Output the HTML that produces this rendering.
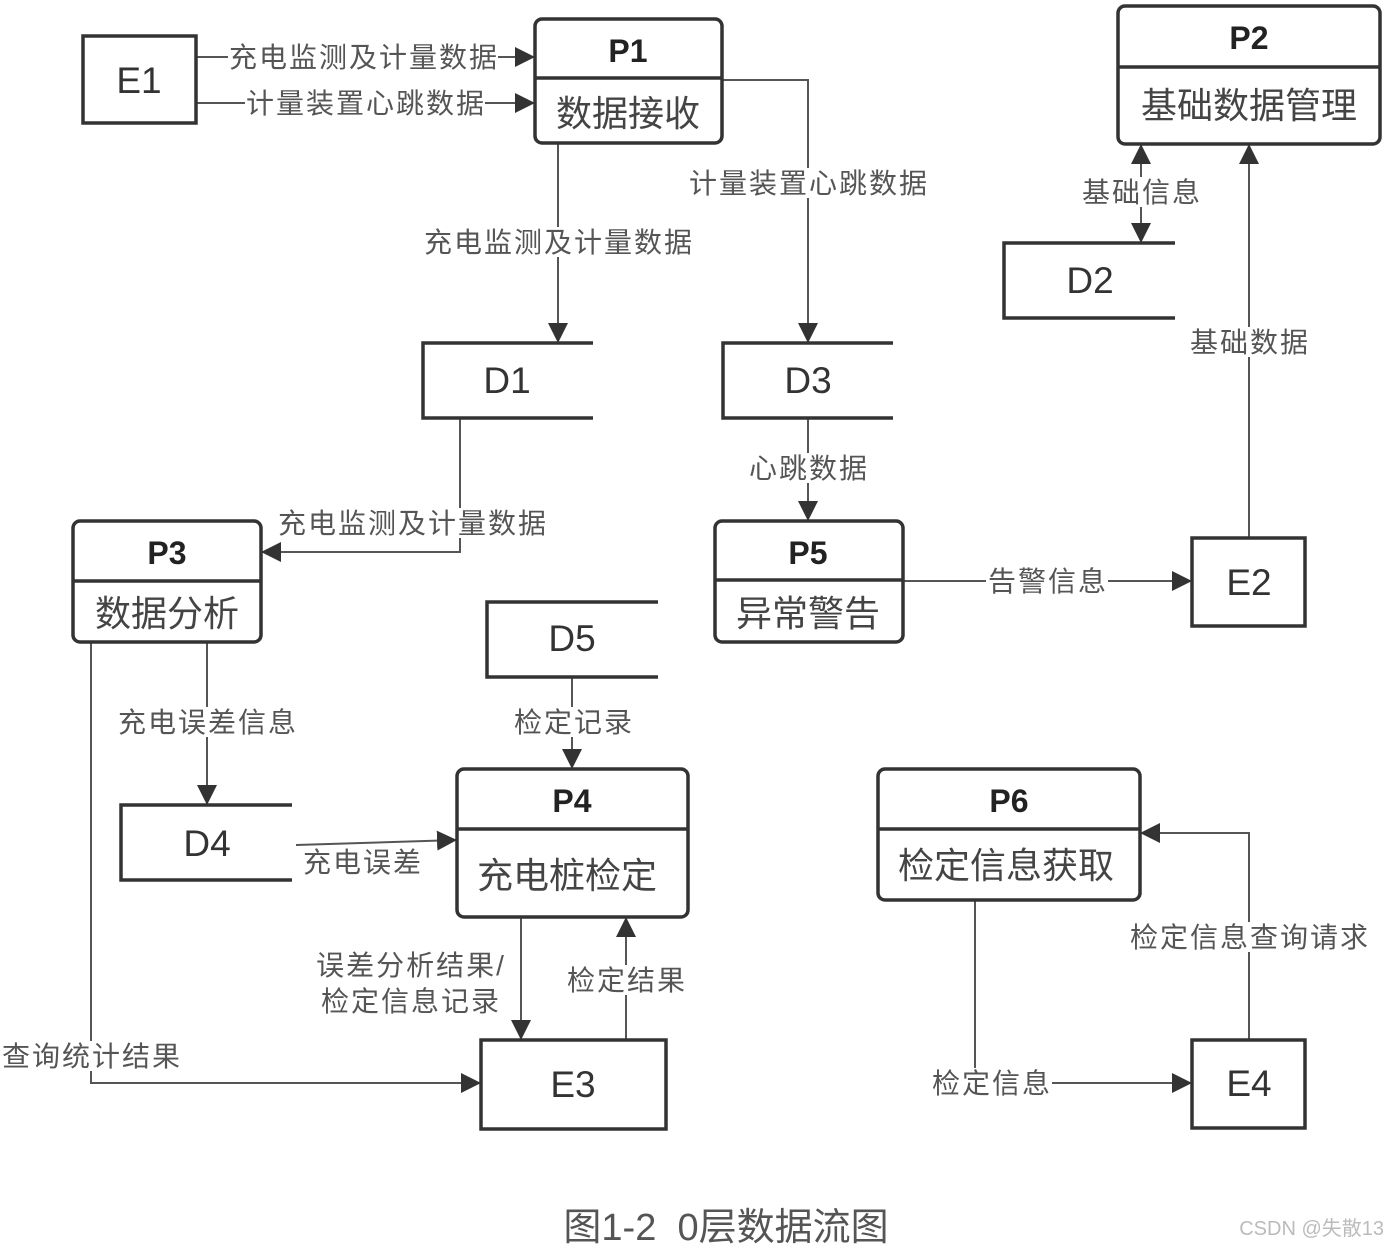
<!DOCTYPE html>
<html><head><meta charset="utf-8"><style>
html,body{margin:0;padding:0;background:#fff;}
svg text{font-family:"Liberation Sans","Noto Sans CJK SC",sans-serif;}
</style></head><body>
<svg width="1389" height="1251" viewBox="0 0 1389 1251" xmlns="http://www.w3.org/2000/svg">
<defs>
<marker id="b" viewBox="0 0 10 10" refX="10" refY="5" markerWidth="20" markerHeight="20" markerUnits="userSpaceOnUse" orient="auto">
<path d="M0,0 L10,5 L0,10 z" fill="#333"/></marker>
</defs>
<g fill="none" stroke="#555" stroke-width="2" marker-end="url(#b)">
<path d="M196,57 H535"/>
<path d="M196,103 H535"/>
<path d="M558,143 V343"/>
<path d="M722,80 H808 V343"/>
<path d="M1141,170 V243"/>
<path d="M1141,170 V144"/>
<path d="M1249,538 V144"/>
<path d="M808,418 V521"/>
<path d="M903,581 H1192"/>
<path d="M460,418 V552 H261"/>
<path d="M207,642 V805"/>
<path d="M296,845 L457,840"/>
<path d="M572,677 V769"/>
<path d="M521,917 V1040"/>
<path d="M626,1040 V917"/>
<path d="M91,642 V1083 H481"/>
<path d="M975,900 V1083 H1192"/>
<path d="M1249,1040 V833 H1140"/>
</g>
<g fill="#fff" stroke="#333" stroke-width="3.5">
<rect x="83" y="36" width="113" height="87"/>
<rect x="1192" y="538" width="113" height="88"/>
<rect x="481" y="1040" width="185" height="89"/>
<rect x="1192" y="1040" width="113" height="88"/>
<rect x="535" y="19" width="187" height="124" rx="7"/>
<rect x="1118" y="6" width="262" height="138" rx="7"/>
<rect x="715" y="521" width="188" height="121" rx="7"/>
<rect x="73" y="521" width="188" height="121" rx="7"/>
<rect x="457" y="769" width="231" height="148" rx="7"/>
<rect x="878" y="769" width="262" height="131" rx="7"/>
</g>
<g fill="none" stroke="#333" stroke-width="3.5">
<path d="M535,78 H722 M1118,67 H1380 M715,580 H903 M73,581 H261 M457,829 H688 M878,829 H1140"/>
<path d="M1175,243 H1004 V318 H1175"/>
<path d="M593,343 H423 V418 H593"/>
<path d="M893,343 H723 V418 H893"/>
<path d="M292,805 H121 V880 H292"/>
<path d="M658,602 H487 V677 H658"/>
</g>
<g fill="#333" font-size="37" text-anchor="middle">
<text x="139" y="93">E1</text>
<text x="1249" y="595">E2</text>
<text x="573" y="1097">E3</text>
<text x="1249" y="1096">E4</text>
<text x="1090" y="293">D2</text>
<text x="507" y="393">D1</text>
<text x="808" y="393">D3</text>
<text x="207" y="856">D4</text>
<text x="572" y="651">D5</text>
</g>
<g fill="#222" font-size="32" font-weight="bold" text-anchor="middle">
<text x="628" y="62">P1</text>
<text x="1249" y="49">P2</text>
<text x="808" y="564">P5</text>
<text x="167" y="564">P3</text>
<text x="572" y="812">P4</text>
<text x="1009" y="812">P6</text>
</g>
<g fill="#444" font-size="36" text-anchor="middle">
<text x="628" y="126">数据接收</text>
<text x="1249" y="118">基础数据管理</text>
<text x="808" y="626">异常警告</text>
<text x="167" y="626">数据分析</text>
<text x="567" y="888">充电桩检定</text>
<text x="1006" y="878">检定信息获取</text>
</g>
<g font-size="28" letter-spacing="2" text-anchor="middle" fill="#555">
<g fill="#fff" stroke="none">
<rect x="228" y="42" width="270" height="30"/>
<rect x="245" y="88" width="240" height="30"/>
<rect x="422" y="227" width="272" height="30"/>
<rect x="688" y="168" width="240" height="30"/>
<rect x="1080" y="177" width="122" height="30"/>
<rect x="1188" y="327" width="122" height="30"/>
<rect x="748" y="453" width="122" height="30"/>
<rect x="986" y="566" width="122" height="30"/>
<rect x="276" y="508" width="272" height="30"/>
<rect x="116" y="707" width="182" height="30"/>
<rect x="300" y="847" width="124" height="30"/>
<rect x="512" y="707" width="122" height="30"/>
<rect x="565" y="965" width="122" height="30"/>
<rect x="1128" y="922" width="242" height="30"/>
<rect x="930" y="1068" width="122" height="30"/>
<rect x="0" y="1041" width="182" height="30"/>
</g>
<text x="364" y="67">充电监测及计量数据</text>
<text x="366" y="113">计量装置心跳数据</text>
<text x="559" y="252">充电监测及计量数据</text>
<text x="809" y="193">计量装置心跳数据</text>
<text x="1142" y="202">基础信息</text>
<text x="1250" y="352">基础数据</text>
<text x="809" y="478">心跳数据</text>
<text x="1048" y="591">告警信息</text>
<text x="413" y="533">充电监测及计量数据</text>
<text x="208" y="732">充电误差信息</text>
<text x="363" y="872">充电误差</text>
<text x="574" y="732">检定记录</text>
<text x="627" y="990">检定结果</text>
<text x="411" y="975">误差分析结果/</text>
<text x="411" y="1011">检定信息记录</text>
<text x="1250" y="947">检定信息查询请求</text>
<text x="992" y="1093">检定信息</text>
<text x="92" y="1066">查询统计结果</text>
</g>
<text x="726" y="1240" font-size="38" fill="#555" text-anchor="middle" xml:space="preserve" style="white-space:pre">图1-2  0层数据流图</text>
<text x="1384" y="1235" font-size="20" fill="#bbb" text-anchor="end">CSDN @失散13</text>
</svg>
</body></html>
